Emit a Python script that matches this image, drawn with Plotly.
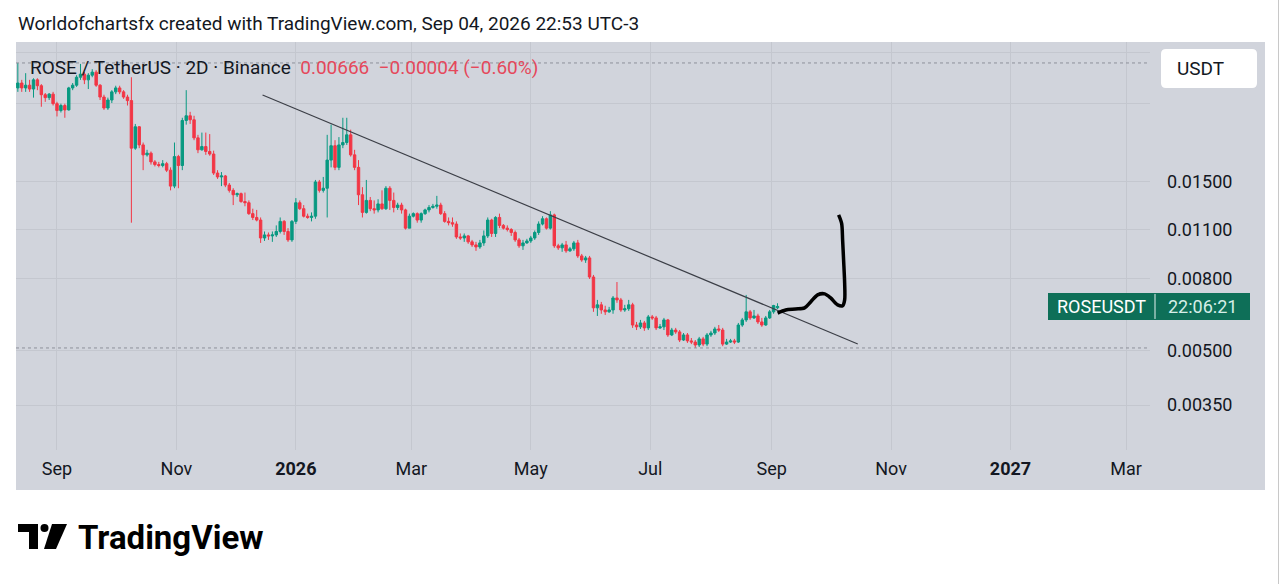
import math
import plotly.graph_objects as go
import pandas as pd

# ---------------- data (2D candles, ROSE/USDT) ----------------
candle_dates = pd.date_range("2025-08-12", periods=195, freq="2D")

open_ = [
    .0277, .0286, .0277, .0282, .0275, .0292, .0281, .0265, .0260, .0266,
    .0250, .0239, .0247, .0240, .0277, .0282, .0297, .0303, .0292, .0301,
    .0307, .0282, .0261, .0243, .0256, .0270, .0277, .0270, .0261, .0255,
    .0187, .0215, .0191, .0179, .0181, .0171, .0168, .0167, .0169, .0162,
    .0146, .0177, .0167, .0224, .0231, .0225, .0200, .0185, .0189, .0183,
    .0180, .0159, .0155, .0156, .0147, .0142, .0138, .0139, .0132, .0131,
    .0122, .0119, .0117, .01041, .01062, .01055, .01062, .01086, .0116, .01086,
    .01028, .0116, .0131, .0126, .0120, .0119, .0120, .0150, .0142, .0144,
    .0173, .0190, .0165, .0191, .0194, .0204, .0179, .0165, .0138, .0123,
    .0133, .0126, .0125, .0130, .0126, .0144, .0133, .0127, .0129, .0125,
    .0111, .0120, .0122, .0117, .0122, .0125, .0127, .0128, .0129, .0122,
    .0116, .0115, .0114, .01048, .01041, .01055, .01015, .00995, .00982, .01008,
    .01055, .0117, .01072, .0119, .0113, .0111, .0110, .01079, .01028, .00989,
    .01008, .01021, .01041, .01079, .0114, .0118, .0111, .0121, .00989, .00976,
    .00995, .00957, .00970, .01008, .00926, .00902, .00914, .00807, .00660, .00673,
    .00651, .00643, .00651, .00704, .00695, .00651, .00656, .00673, .00590, .00583,
    .00598, .00579, .00622, .00618, .00579, .00583, .00610, .00553, .00571, .00564,
    .00535, .00553, .00532, .00528, .00518, .00539, .00521, .00553, .00560, .00575,
    .00571, .00521, .00528, .00532, .00528, .00590, .00610, .00643, .00618, .00626,
    .00602, .00590, .00618, .00643, .00660,
]
close = [
    .0286, .0277, .0282, .0275, .0292, .0281, .0265, .0260, .0266, .0250,
    .0239, .0247, .0240, .0277, .0282, .0297, .0303, .0292, .0301, .0307,
    .0282, .0261, .0243, .0256, .0270, .0277, .0270, .0261, .0255, .0187,
    .0215, .0191, .0179, .0181, .0171, .0168, .0167, .0169, .0162, .0146,
    .0177, .0167, .0224, .0231, .0225, .0200, .0185, .0189, .0183, .0180,
    .0159, .0155, .0156, .0147, .0142, .0138, .0139, .0132, .0131, .0122,
    .0119, .0117, .01041, .01062, .01055, .01062, .01086, .0116, .01086, .01028,
    .0116, .0131, .0126, .0120, .0119, .0120, .0150, .0142, .0144, .0173,
    .0190, .0165, .0191, .0194, .0204, .0179, .0165, .0138, .0123, .0133,
    .0126, .0125, .0130, .0126, .0144, .0133, .0127, .0129, .0125, .0111,
    .0120, .0122, .0117, .0122, .0125, .0127, .0128, .0129, .0122, .0116,
    .0115, .0114, .01048, .01041, .01055, .01015, .00995, .00982, .01008, .01055,
    .0117, .01072, .0119, .0113, .0111, .0110, .01079, .01028, .00989, .01008,
    .01021, .01041, .01079, .0114, .0118, .0111, .0121, .00989, .00976, .00995,
    .00957, .00970, .01008, .00926, .00902, .00914, .00807, .00660, .00673, .00651,
    .00643, .00651, .00704, .00695, .00651, .00656, .00673, .00590, .00583, .00598,
    .00579, .00622, .00618, .00579, .00583, .00610, .00553, .00571, .00564, .00535,
    .00553, .00532, .00528, .00518, .00539, .00521, .00553, .00560, .00575, .00571,
    .00521, .00528, .00532, .00528, .00590, .00610, .00643, .00618, .00626, .00602,
    .00590, .00618, .00643, .00670, .00666,
]
high = [
    .0326, .0292, .0305, .0292, .0295, .0295, .0284, .0268, .0268, .0270,
    .0253, .0250, .0250, .0279, .0286, .0301, .0324, .0307, .0305, .0313,
    .0311, .0284, .0265, .0260, .0273, .0281, .0281, .0273, .0265, .0297,
    .0219, .0216, .0194, .0185, .0183, .0173, .0171, .0173, .0171, .0165,
    .0194, .0179, .0228, .0273, .0237, .0231, .0204, .0207, .0207, .0205,
    .0184, .0162, .0160, .0157, .0149, .0144, .0140, .0140, .0140, .0133,
    .0126, .0125, .0119, .01086, .01079, .01086, .0113, .0119, .0117, .0111,
    .0117, .0135, .0133, .0129, .0122, .0123, .0152, .0152, .0155, .0204,
    .0218, .0197, .0201, .0228, .0228, .0211, .0185, .0173, .0145, .0152,
    .0136, .0133, .0134, .0142, .0146, .0146, .0140, .0131, .0131, .0126,
    .0122, .0123, .0123, .0123, .0126, .0129, .0130, .0137, .0131, .0124,
    .0119, .0119, .0116, .01072, .01072, .01062, .01028, .01015, .01028, .01093,
    .0119, .0118, .0120, .0122, .0114, .0113, .0111, .01093, .01041, .01028,
    .01035, .01055, .01093, .0116, .0120, .0119, .0124, .0122, .01002, .01008,
    .01021, .00982, .01021, .01028, .00938, .00926, .00926, .00818, .00695, .00686,
    .00669, .00664, .00713, .00781, .00704, .00673, .00695, .00682, .00602, .00610,
    .00606, .00630, .00630, .00626, .00594, .00618, .00614, .00579, .00579, .00571,
    .00560, .00560, .00542, .00535, .00546, .00546, .00560, .00568, .00583, .00590,
    .00579, .00539, .00539, .00539, .00598, .00618, .00718, .00651, .00651, .00635,
    .00618, .00626, .00651, .00673, .00680,
]
low = [
    .0270, .0270, .0270, .0270, .0260, .0273, .0245, .0253, .0256, .0247,
    .0230, .0236, .0228, .0239, .0273, .0279, .0292, .0284, .0275, .0297,
    .0279, .0256, .0240, .0240, .0251, .0266, .0266, .0258, .0247, .0115,
    .0185, .0187, .0162, .0177, .0168, .0166, .0165, .0165, .0160, .0142,
    .0144, .0144, .0162, .0218, .0219, .0197, .0181, .0184, .0179, .0178,
    .0157, .0153, .0146, .0145, .0140, .0129, .0136, .0131, .0128, .0121,
    .0117, .0116, .01008, .01021, .01028, .01015, .01048, .01072, .01062, .01015,
    .01015, .0114, .0125, .0119, .0118, .0116, .0118, .0140, .0140, .0119,
    .0165, .0162, .0162, .0187, .0191, .0177, .0162, .0129, .0119, .0122,
    .0124, .0122, .0123, .0125, .0125, .0125, .0123, .0125, .0122, .0110,
    .0111, .0119, .0115, .0115, .0121, .0123, .0126, .0126, .0121, .0115,
    .0113, .0112, .01035, .01028, .01015, .01002, .00982, .00957, .00970, .00989,
    .01041, .01048, .01048, .0111, .0110, .01086, .01055, .01015, .00976, .00963,
    .01002, .01008, .01028, .01062, .0113, .0110, .0110, .00976, .00963, .00951,
    .00945, .00951, .00957, .00914, .00891, .00885, .00797, .00643, .00626, .00635,
    .00630, .00639, .00635, .00682, .00643, .00643, .00647, .00579, .00571, .00575,
    .00568, .00571, .00610, .00571, .00575, .00571, .00546, .00549, .00557, .00528,
    .00532, .00525, .00521, .00508, .00511, .00514, .00514, .00546, .00553, .00564,
    .00514, .00518, .00525, .00521, .00525, .00583, .00602, .00610, .00614, .00594,
    .00583, .00587, .00614, .00635, .00655,
]
assert len(open_) == len(close) == len(high) == len(low) == len(candle_dates)

# trend line drawn on the chart
trend_dates = ["2025-12-15", "2026-10-15"]
trend_prices = [0.02646, 0.005214]

# hand-drawn projection squiggle
squiggle_dates = ["2026-09-04 01:30", "2026-09-08 04:00", "2026-09-13 06:00", "2026-09-17 20:00",
                  "2026-09-20 22:00", "2026-09-24 12:00", "2026-09-28 02:00", "2026-10-01 03:00",
                  "2026-10-04 17:00", "2026-10-07 06:00", "2026-10-08 07:00", "2026-10-08 07:00",
                  "2026-10-07 18:00", "2026-10-07 06:00", "2026-10-06 18:00", "2026-10-05 05:00"]
squiggle_prices = [0.00638, 0.00651, 0.00655, 0.00660, 0.00686, 0.00718, 0.00723, 0.00704,
                   0.00673, 0.00669, 0.00695, 0.00776, 0.00902, 0.01028, 0.01145, 0.0121]

x_tick_dates = ["2025-09-01", "2025-11-01", "2026-01-01", "2026-03-01", "2026-05-01",
                "2026-07-01", "2026-09-01", "2026-11-01", "2027-01-01", "2027-03-01"]
x_tick_labels = ["Sep", "Nov", "<b>2026</b>", "Mar", "May", "Jul", "Sep", "Nov", "<b>2027</b>", "Mar"]
y_tick_vals = [0.0035, 0.005, 0.008, 0.011, 0.015, 0.025, 0.035]
y_tick_labels = ["0.00350", "0.00500", "0.00800", "0.01100", "0.01500", "", ""]

last_price_text = "0.00666"
change_text = "\u22120.00004 (\u22120.60%)"

# ---------------- layout helpers ----------------
W, H = 1280, 584
PL, PR, PT, PB = 16, 1150, 42, 450
YLOG_RANGE = [-2.5832, -1.4274]
def px(x):
    return (x - PL) / (PR - PL)
def py(y):
    return (PB - y) / (PB - PT)
def price_to_paper(p):
    return (math.log10(p) - YLOG_RANGE[0]) / (YLOG_RANGE[1] - YLOG_RANGE[0])

BG = "#d1d4dc"
GRID = "#c4c7cf"
UP = "#089981"
DOWN = "#f23645"
TXT = "#131722"
FONT = "Roboto"

fig = go.Figure()
fig.add_trace(go.Candlestick(
    x=candle_dates, open=open_, high=high, low=low, close=close,
    increasing=dict(line=dict(color=UP, width=1), fillcolor=UP),
    decreasing=dict(line=dict(color=DOWN, width=1), fillcolor=DOWN),
    whiskerwidth=0, showlegend=False, hoverinfo="skip",
))
fig.add_trace(go.Scatter(x=trend_dates, y=trend_prices, mode="lines",
                         line=dict(color="#3b3e46", width=1.2), showlegend=False, hoverinfo="skip"))
fig.add_trace(go.Scatter(x=squiggle_dates, y=squiggle_prices, mode="lines",
                         line=dict(color="#000000", width=3.5, shape="spline", smoothing=0.8),
                         showlegend=False, hoverinfo="skip"))

shapes = []
# grey chart panel
shapes.append(dict(type="rect", xref="paper", yref="paper", x0=px(16), x1=px(1265), y0=py(490), y1=py(42),
                   fillcolor=BG, line=dict(width=0), layer="below"))
# right border of the screenshot
shapes.append(dict(type="line", xref="paper", yref="paper", x0=px(1278.5), x1=px(1278.5), y0=py(0), y1=py(584),
                   line=dict(color="#c8c8c8", width=1)))
# high / low dotted lines
shapes.append(dict(type="line", xref="paper", yref="y", x0=0, x1=1, y0=max(high), y1=max(high),
                   line=dict(color="#8e919a", width=1, dash="dot")))
shapes.append(dict(type="line", xref="paper", yref="y", x0=0, x1=1, y0=min(low), y1=min(low),
                   line=dict(color="#8e919a", width=1, dash="dot")))

# USDT rounded box
def rounded(x0, y0, x1, y1, r):
    return (f"M {px(x0 + r)} {py(y0)} L {px(x1 - r)} {py(y0)} Q {px(x1)} {py(y0)} {px(x1)} {py(y0 + r)} "
            f"L {px(x1)} {py(y1 - r)} Q {px(x1)} {py(y1)} {px(x1 - r)} {py(y1)} "
            f"L {px(x0 + r)} {py(y1)} Q {px(x0)} {py(y1)} {px(x0)} {py(y1 - r)} "
            f"L {px(x0)} {py(y0 + r)} Q {px(x0)} {py(y0)} {px(x0 + r)} {py(y0)} Z")
shapes.append(dict(type="path", xref="paper", yref="paper", path=rounded(1161, 49, 1257, 88, 5),
                   fillcolor="#ffffff", line=dict(width=0)))

# last price label box (positioned at the last close on the log axis)
last = close[-1]
ly = price_to_paper(last)
half = 13.5 / (PB - PT)
shapes.append(dict(type="rect", xref="paper", yref="paper",
                   x0=px(1048), x1=px(1250), y0=ly - half, y1=ly + half,
                   fillcolor="#0e6f58", line=dict(width=0)))
shapes.append(dict(type="line", xref="paper", yref="paper",
                   x0=px(1155), x1=px(1155), y0=ly - half + 1 / (PB - PT), y1=ly + half - 1 / (PB - PT),
                   line=dict(color="#e6f2ef", width=1)))

# TradingView logo glyph
shapes.append(dict(type="rect", xref="paper", yref="paper", x0=px(18), x1=px(38), y0=py(532), y1=py(524),
                   fillcolor="#000000", line=dict(width=0)))
shapes.append(dict(type="rect", xref="paper", yref="paper", x0=px(29), x1=px(38), y0=py(549), y1=py(524),
                   fillcolor="#000000", line=dict(width=0)))
shapes.append(dict(type="circle", xref="paper", yref="paper", x0=px(40.5), x1=px(48.5), y0=py(532), y1=py(524),
                   fillcolor="#000000", line=dict(width=0)))
shapes.append(dict(type="path", xref="paper", yref="paper",
                   path=f"M {px(52)} {py(524)} L {px(67)} {py(524)} L {px(56)} {py(549)} L {px(44)} {py(549)} Z",
                   fillcolor="#000000", line=dict(width=0)))

annotations = [
    dict(xref="paper", yref="paper", x=px(16), y=py(24), xanchor="left", yanchor="middle", showarrow=False,
         text="Worldofchartsfx created with TradingView.com, Sep 04, 2026 22:53 UTC-3",
         font=dict(family=FONT, size=19, color=TXT)),
    dict(xref="paper", yref="paper", x=px(28), y=py(67), xanchor="left", yanchor="middle", showarrow=False,
         text=("ROSE / TetherUS \u00b7 2D \u00b7 Binance  "
               f"<span style='color:#e5485b'>{last_price_text}  {change_text}</span>"),
         font=dict(family=FONT, size=19, color=TXT)),
    dict(xref="paper", yref="paper", x=px(1175), y=py(68.5), xanchor="left", yanchor="middle", showarrow=False,
         text="USDT", font=dict(family=FONT, size=19, color=TXT)),
    dict(xref="paper", yref="paper", x=px(1101), y=ly, xanchor="center", yanchor="middle", showarrow=False,
         text="ROSEUSDT", font=dict(family=FONT, size=18, color="#ffffff")),
    dict(xref="paper", yref="paper", x=px(1202), y=ly, xanchor="center", yanchor="middle", showarrow=False,
         text="22:06:21", font=dict(family=FONT, size=18, color="#d6eee8")),
    dict(xref="paper", yref="paper", x=px(76), y=py(537), xanchor="left", yanchor="middle", showarrow=False,
         text="<b>TradingView</b>", font=dict(family=FONT, size=33, color="#000000")),
]

fig.update_layout(
    width=W, height=H,
    margin=dict(l=PL, r=W - PR, t=PT, b=H - PB, pad=0),
    paper_bgcolor="#ffffff", plot_bgcolor=BG,
    showlegend=False, boxgap=0.12,
    shapes=shapes, annotations=annotations,
    xaxis=dict(type="date", range=["2025-08-11 01:30", "2027-03-13 06:00"],
               tickvals=x_tick_dates, ticktext=x_tick_labels,
               showgrid=True, gridcolor=GRID, gridwidth=1, zeroline=False, showline=False,
               ticks="", ticklabelstandoff=6,
               tickfont=dict(family=FONT, size=18, color=TXT),
               rangeslider=dict(visible=False), fixedrange=True),
    yaxis=dict(type="log", range=YLOG_RANGE, side="right",
               tickvals=y_tick_vals, ticktext=y_tick_labels,
               showgrid=True, gridcolor=GRID, gridwidth=1, zeroline=False, showline=False,
               ticks="", ticklabelstandoff=16,
               tickfont=dict(family=FONT, size=18, color=TXT), fixedrange=True),
)

fig.write_html("out.html", config={"displayModeBar": False},
               post_script="document.body.style.margin='0';document.body.style.overflow='hidden';")
